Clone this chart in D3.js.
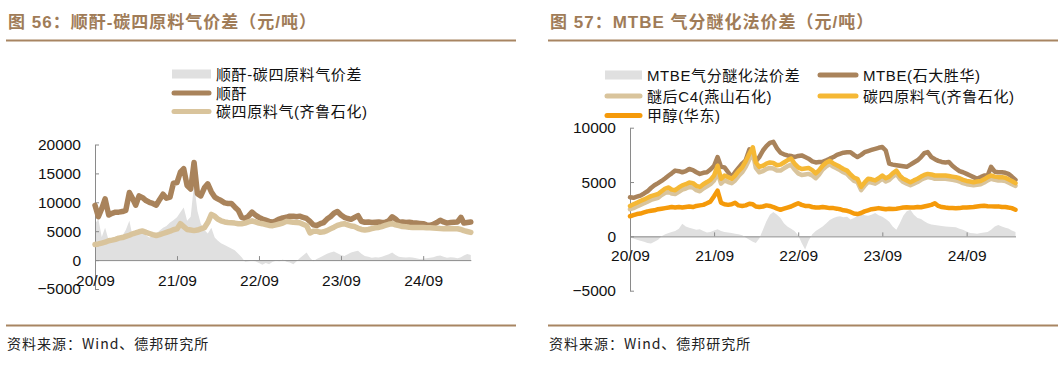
<!DOCTYPE html>
<html><head><meta charset="utf-8">
<script src="https://cdn.jsdelivr.net/npm/d3@7"></script>
<style>
html,body{margin:0;padding:0;background:#fff;}
svg{display:block;}
text{font-family:"Liberation Sans","Noto Sans CJK SC",sans-serif;}
</style></head>
<body>
<svg id="c" width="1063" height="366"></svg>
<script>
// ---------- DATA (semi-monthly from 2020-09-01 to 2025-04-01) ----------
const startDate = "2020-09-01";
const nPoints = 111;
const xTickLabels = ["20/09","21/09","22/09","23/09","24/09"];
const xTickDates = ["2020-09-01","2021-09-01","2022-09-01","2023-09-01","2024-09-01"];
const leftYTicks = [-5000,0,5000,10000,15000,20000];
const rightYTicks = [-5000,0,5000,10000];

// Chart 56
const maleicAnhydride = [9480,7500,8900,10600,7800,8100,8300,8300,8400,8600,11700,10600,9500,11100,10800,10300,10000,9800,9500,10500,11400,10700,10900,13300,13400,15200,15800,12900,12300,16900,11500,11100,12500,13200,11800,10900,10600,10300,9900,9800,9800,9200,8600,7400,7200,7600,8300,7800,7400,7100,6900,6700,6550,6800,7100,7300,7400,7600,7600,7500,7600,7400,7200,6700,6100,6000,6300,6500,7100,7500,8100,8400,7800,7400,7200,7050,7400,7700,6700,6550,6600,6500,6550,6600,6500,6550,6800,7500,7100,6550,6600,6500,6550,6450,6400,6350,6300,6100,6000,6200,6500,6900,6600,6400,6500,6550,6600,7400,6400,6500,6600];
const c4QiluLeft = [2700,2800,2950,3100,3350,3450,3600,3800,3900,4100,4300,4550,4700,4900,5050,4800,4600,4400,4250,4400,4600,4800,5000,5250,5400,6300,5800,5300,5200,5100,5200,5400,5600,6500,7900,7600,7100,6800,6600,6500,6450,6400,6300,6300,6400,6600,6800,6600,6400,6300,6150,6000,5950,6100,6250,6400,6700,6650,6550,6500,6450,6200,5950,4700,5000,5000,4800,4900,5100,5400,5700,6000,6200,6300,6100,5900,5800,5500,5300,5200,5300,5450,5600,5650,5800,6000,6200,6300,6100,5950,5800,5780,5700,5650,5650,5650,5620,5600,5600,5550,5500,5450,5430,5430,5430,5430,5430,5300,5100,4950,4800];
const maleicSpread = [6300,7100,4000,5600,3400,3800,3400,3600,4200,5200,6800,4000,4600,5100,4700,4300,3900,4200,4600,5100,5600,5900,6500,6900,7400,8300,9100,6800,7500,13200,8500,6300,5200,4600,5600,3900,3400,2900,2600,2300,2000,1700,1100,500,-300,-200,-100,-200,-500,-800,-500,-700,-300,-100,-200,100,-300,-400,-700,-200,300,800,1300,400,-200,200,500,800,1100,1300,1500,1200,900,700,1000,1300,1500,1600,1100,700,600,400,500,450,600,800,1000,1300,900,600,500,450,500,450,300,200,250,300,400,500,700,800,600,400,500,450,300,500,800,1050,900];

// Chart 57
const mtbe = [3600,3550,3650,3750,3950,4150,4450,4700,4900,5100,5350,5600,5800,6050,6000,5900,6000,6200,6100,5900,5750,5850,5900,6150,6500,7300,6400,6350,5900,5450,5900,6300,6700,7000,8000,7300,6900,7300,7900,8300,8600,8700,8100,7700,7550,7450,7400,7300,7400,7450,7300,7150,6900,6800,6850,6850,7000,7150,7300,7500,7600,7700,7750,7750,7500,7300,7500,7750,7850,7950,8050,8150,8220,7900,6700,6600,6550,6500,6450,6400,6600,6800,7000,7300,7650,7750,7300,7100,6950,6850,6800,6850,6500,6250,6000,5900,5750,5600,5450,5300,5450,5600,5600,6400,5950,5900,5900,5850,5750,5500,5200];
const etherC4Yanshan = [2500,2600,2750,2900,3050,3200,3350,3450,3550,3800,4000,4100,3950,3900,4100,4300,4400,4550,4500,4250,4150,4400,4600,4800,5150,5900,4850,5150,5000,4900,5150,5550,5900,6400,7100,7700,6300,5900,6000,6200,6300,6250,6050,6050,6250,6450,6600,6150,5800,5650,5700,5750,5600,5350,5700,6150,6450,6650,6400,6250,6100,5900,5750,5400,5100,5000,4250,4650,5000,4950,4850,5050,5300,5050,5200,5500,5750,5300,5000,4850,4700,4850,5000,5200,5350,5450,5400,5300,5300,5300,5300,5250,5200,5150,5050,4900,4800,4750,4700,4750,4800,4950,5150,5300,5200,5150,5150,5100,4950,4800,4650];
const c4QiluRight = [2800,2950,3100,3250,3400,3550,3700,3800,3900,4150,4400,4500,4300,4250,4500,4700,4800,4950,4900,4650,4550,4800,5000,5200,5600,6500,5300,5600,5450,5300,5600,6000,6350,6900,7600,8200,6800,6400,6500,6700,6800,6750,6550,6600,6800,7000,7150,6700,6350,6200,6250,6300,6100,5800,6100,6500,6800,6950,6700,6550,6400,6200,6050,5700,5400,5300,4550,4950,5300,5250,5150,5350,5600,5350,5500,5800,6050,5600,5300,5150,4980,5150,5300,5500,5650,5750,5700,5600,5600,5600,5600,5550,5500,5450,5350,5200,5100,5050,4980,5050,5100,5250,5450,5600,5500,5450,5450,5400,5250,5100,4900];
const methanolEast = [1850,1950,2050,2100,2200,2300,2350,2400,2500,2550,2600,2650,2700,2650,2700,2650,2700,2750,2700,2800,2850,2900,3050,3200,3700,4200,3100,2950,2900,2950,3100,2850,2800,2850,3000,2950,2750,2700,2750,2850,2800,2700,2550,2450,2550,2650,2750,2900,3050,2900,2800,2800,2700,2650,2650,2700,2650,2600,2600,2550,2500,2400,2350,2250,2100,2050,2150,2300,2400,2500,2550,2600,2550,2500,2550,2520,2550,2600,2650,2680,2650,2650,2700,2680,2750,2820,2900,3050,2800,2700,2650,2620,2600,2580,2600,2650,2650,2680,2700,2750,2800,2820,2780,2760,2750,2760,2700,2700,2650,2600,2450];
const mtbeSpread = [-100,-200,-300,-400,-500,-600,-650,-500,-300,0,200,300,400,500,700,1150,900,800,700,600,650,500,350,400,550,650,500,400,350,300,250,200,100,-100,-300,-500,-600,-200,600,1400,2000,2250,2000,1700,1200,900,700,500,100,-600,-1200,-400,200,500,700,900,1200,1500,1700,1800,1850,1750,1800,1550,1700,1900,2100,1950,1900,2000,2150,1950,1800,1600,1350,900,600,1200,1900,2300,2450,2000,1700,1600,1400,1200,1100,1050,1000,950,900,880,870,850,700,600,450,300,280,250,300,350,400,600,900,1050,900,800,720,550,400];

// ---------- STYLE ----------
const COL_TITLE = "#a07c58", COL_RULE = "#a88562";
const COL_BROWN = "#a9835b", COL_TAN = "#d9c49c", COL_YELLOW = "#f5b835", COL_ORANGE = "#f59a0a", COL_GRAY = "#e0e0e0";
const parse = d3.utcParse("%Y-%m-%d");
const d0 = parse(startDate);
const dates = d3.range(nPoints).map(k => d3.utcDay.offset(d3.utcMonth.offset(d0, Math.floor(k/2)), (k%2)*15));

const svg = d3.select("#c");

function header(x0, x1, title) {
  svg.append("text").attr("x", x0 + 2).attr("y", 28).attr("fill", COL_TITLE)
     .attr("font-size", 17).attr("font-weight", "bold").attr("letter-spacing", 1).text(title);
  svg.append("line").attr("x1", x0).attr("x2", x1).attr("y1", 40.5).attr("y2", 40.5)
     .attr("stroke", COL_RULE).attr("stroke-width", 2);
  svg.append("line").attr("x1", x0).attr("x2", x1).attr("y1", 325.5).attr("y2", 325.5)
     .attr("stroke", COL_RULE).attr("stroke-width", 2);
  svg.append("text").attr("x", x0 + 1).attr("y", 349).attr("fill", "#222")
     .attr("font-size", 14).attr("letter-spacing", 1).style("font-family", "'Liberation Sans Narrow','Noto Sans CJK SC',sans-serif")
     .text("资料来源：Wind、德邦研究所");
}

function drawChart(cfg) {
  const g = svg.append("g");
  const x = d3.scaleUtc().domain([dates[0], dates[dates.length-1]]).range(cfg.xRange);
  const y = d3.scaleLinear().domain(cfg.yDomain).range(cfg.yRange);

  const area = d3.area().x((d,i) => x(dates[i])).y0(y(0)).y1(d => y(d)).curve(d3.curveLinear);
  g.append("path").datum(cfg.spread).attr("d", area).attr("fill", COL_GRAY);

  const ya = g.append("g").attr("transform", `translate(${cfg.xRange[0]},0)`)
    .call(d3.axisLeft(y).tickValues(cfg.yTicks).tickSizeInner(-4).tickSizeOuter(0).tickPadding(14).tickFormat(d3.format("d")));
  const xa = g.append("g").attr("transform", `translate(0,${y(0)})`)
    .call(d3.axisBottom(x).tickValues(xTickDates.map(parse)).tickSizeInner(-4).tickSizeOuter(0).tickPadding(cfg.xPad)
      .tickFormat((d,i) => xTickLabels[i]));
  [ya, xa].forEach(a => {
    a.select(".domain").attr("stroke", "#8a8a8a");
    a.selectAll(".tick line").attr("stroke", "#8a8a8a");
    a.selectAll("text").attr("font-size", 15.5).attr("fill", "#111").style("font-family", "'Liberation Sans',sans-serif");
  });

  const line = d3.line().x((d,i) => x(dates[i])).y(d => y(d)).curve(d3.curveLinear);
  cfg.lines.forEach(s => {
    g.append("path").datum(s.values).attr("d", line).attr("fill", "none")
      .attr("stroke", s.color).attr("stroke-width", s.width).attr("stroke-linejoin", "round").attr("stroke-linecap", "round");
  });

  cfg.legend.forEach(it => {
    if (it.type === "box") {
      g.append("rect").attr("x", it.x).attr("y", it.y - 4.5).attr("width", it.w).attr("height", 9).attr("fill", COL_GRAY);
    } else {
      g.append("line").attr("x1", it.x + 2).attr("x2", it.x + it.w - 2).attr("y1", it.y).attr("y2", it.y)
        .attr("stroke", it.color).attr("stroke-width", 5).attr("stroke-linecap", "round");
    }
    g.append("text").attr("x", it.x + it.w + 5).attr("y", it.y + 5.5).attr("font-size", 15)
      .attr("letter-spacing", 0.6).attr("fill", "#111").text(it.label);
  });
}

header(6, 516, "图 56：顺酐-碳四原料气价差（元/吨）");
header(548, 1058, "图 57：MTBE 气分醚化法价差（元/吨）");

drawChart({
  xRange: [95, 470.8], yDomain: [-5000, 20000], yRange: [289, 144.5], yTicks: leftYTicks, xPad: 15,
  spread: maleicSpread,
  lines: [
    {values: maleicAnhydride, color: COL_BROWN, width: 5.5},
    {values: c4QiluLeft, color: COL_TAN, width: 5.5}
  ],
  legend: [
    {type: "box", x: 172, y: 74, w: 39, label: "顺酐-碳四原料气价差"},
    {type: "line", x: 172, y: 93, w: 39, color: COL_BROWN, label: "顺酐"},
    {type: "line", x: 172, y: 111.5, w: 39, color: COL_TAN, label: "碳四原料气(齐鲁石化)"}
  ]
});

drawChart({
  xRange: [630, 1015.5], yDomain: [-5000, 10000], yRange: [290.7, 127.7], yTicks: rightYTicks, xPad: 13.5,
  spread: mtbeSpread,
  lines: [
    {values: mtbe, color: COL_BROWN, width: 4.5},
    {values: etherC4Yanshan, color: COL_TAN, width: 4.5},
    {values: c4QiluRight, color: COL_YELLOW, width: 4.5},
    {values: methanolEast, color: COL_ORANGE, width: 4.5}
  ],
  legend: [
    {type: "box", x: 605, y: 75, w: 37, label: "MTBE气分醚化法价差"},
    {type: "line", x: 818, y: 75, w: 40, color: COL_BROWN, label: "MTBE(石大胜华)"},
    {type: "line", x: 605, y: 96, w: 37, color: COL_TAN, label: "醚后C4(燕山石化)"},
    {type: "line", x: 818, y: 96, w: 40, color: COL_YELLOW, label: "碳四原料气(齐鲁石化)"},
    {type: "line", x: 605, y: 115.5, w: 37, color: COL_ORANGE, label: "甲醇(华东)"}
  ]
});
</script>
</body></html>
